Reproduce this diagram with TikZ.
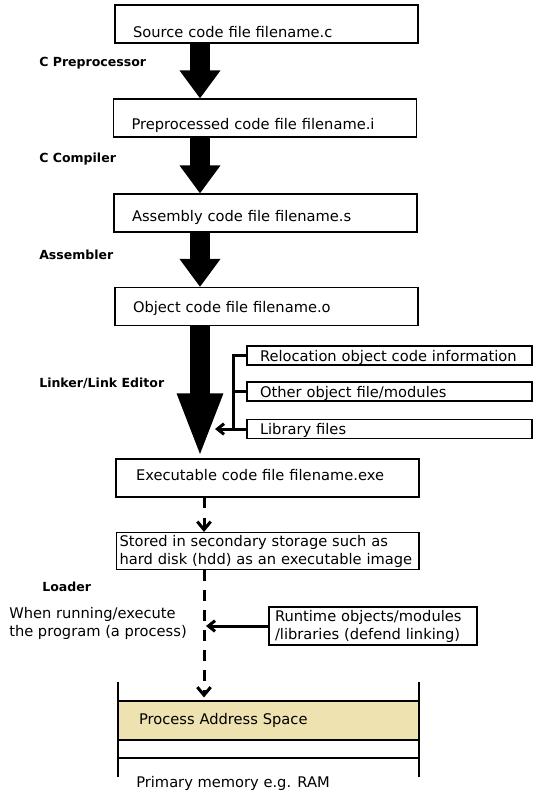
\documentclass[tikz,border=0pt]{standalone}
\usepackage{fontspec}
\setmainfont{DejaVu Sans}
\usetikzlibrary{arrows.meta,calc}

\definecolor{pasfill}{RGB}{238,226,176}

\tikzset{
	filebox/.style={draw, line width=0.8pt, minimum height=28.5pt, text width=200.25pt,
		inner xsep=13.5pt, inner ysep=1pt, align=left, text height=8.8pt, text depth=0pt,
		font=\fontsize{11}{13.5}\selectfont},
	notebox/.style={draw, line width=0.8pt, inner ysep=1pt, align=left,
		font=\fontsize{11}{13.5}\selectfont},
	objbox/.style={draw, line width=0.8pt, minimum height=14.25pt, text width=194.25pt,
		inner xsep=9.75pt, inner ysep=0pt, align=left, text height=8.8pt, text depth=0pt,
		font=\fontsize{11}{13.5}\selectfont},
	steplabel/.style={anchor=west, inner sep=0pt, font=\fontsize{9.4}{11}\bfseries},
	bigarrow/.style={line width=15pt, -{Triangle[width=29.25pt,length=21pt]}},
	linkline/.style={line width=2.25pt},
	loaddash/.style={line width=2.25pt, dash pattern=on 8pt off 7pt,
		-{Straight Barb[length=6pt,width=10pt]}},
}

\begin{document}
\begin{tikzpicture}[x=0.75pt, y=-0.75pt]
	\useasboundingbox (0,0) rectangle (546,800);
	
	% x position of the arrows
	\coordinate (ax) at (200,0);
	\coordinate (dx) at (204,0);
	
	% the file boxes
	\node[filebox, text height=20pt] (src) at (266.5,24) {Source code file filename.c};
	\node[filebox, text height=17pt] (pre) at (265,118) {Preprocessed code file filename.i};
	\node[filebox, text height=12.5pt] (asm) at (265.5,213) {Assembly code file filename.s};
	\node[filebox] (obj) at (266.5,306.5) {Object code file filename.o};
	\node[filebox, text height=4.3pt, inner xsep=15pt, text width=197.25pt] (exe) at (267.5,478) {Executable code file filename.exe};
	
	% step labels
	\node[steplabel] (lblpre) at (39,63) {C Preprocessor};
	\node[steplabel] (lblcc) at (39,159) {C Compiler};
	\node[steplabel] (lblasm) at (39,255) {Assembler};
	\node[steplabel] (lbllink) at (39,383) {Linker/Link Editor};
	\node[steplabel] (lblload) at (42,587) {Loader};
	
	% big arrows
	\draw[bigarrow] (src.south -| ax) -- (pre.north -| ax);
	\draw[bigarrow] (pre.south -| ax) -- (asm.north -| ax);
	\draw[bigarrow] (asm.south -| ax) -- (obj.north -| ax);
	\draw[line width=15pt, -{Triangle[width=30.75pt,length=48.75pt]}] (obj.south -| ax) -- (exe.north -| ax);
	
	% linker inputs
	\node[objbox] (rel) at (389.5,355.5) {Relocation object code information};
	\node[objbox] (oth) at (389.5,391.5) {Other object file/modules};
	\node[objbox] (lib) at (389.5,429) {Library files};
	\coordinate (brk) at (233,0);
	\coordinate (lnkin) at (215,429);
	\draw[linkline] (rel.west) -- (rel.west -| brk) -- (lib.west -| brk) -- (lib.west);
	\draw[linkline] (oth.west) -- (oth.west -| brk);
	\draw[linkline, -{Straight Barb[length=5pt,width=8pt]}] (lib.west -| brk) -- (lnkin);
	
	% stored image
	\node[notebox, minimum height=27.75pt, text width=222pt, inner xsep=2.6pt] (hdd) at (267.5,551)
	{Stored in secondary storage such as\\hard disk (hdd) as an executable image};
	\draw[loaddash] (exe.south -| dx) -- (hdd.north -| dx);
	
	% loading
	\node[anchor=west, inner sep=0pt, align=left, font=\fontsize{11}{13.5}\selectfont] (run) at (9,623)
	{When running/execute\\the program (a process)};
	\node[notebox, minimum height=28.5pt, text width=147pt, inner xsep=4.5pt] (rt) at (373,626)
	{Runtime objects/modules\\/libraries (defend linking)};
	\coordinate (rtin) at (206,626);
	\draw[linkline, -{Straight Barb[length=5pt,width=8pt]}] (rt.west) -- (rtin);
	
	% primary memory
	\node[draw, line width=0.8pt, fill=pasfill, minimum width=225.75pt, minimum height=29.25pt,
	text width=194.25pt, inner xsep=15.75pt, align=left, font=\fontsize{11}{13.5}\selectfont] (pas) at (268.5,720.5)
	{Process Address Space};
	\draw[loaddash] (hdd.south -| dx) -- ($(pas.north -| dx)+(0,-3)$);
	\coordinate (mtl) at (118,682);
	\coordinate (mtr) at (419,682);
	\draw[line width=0.8pt] (mtl) -- (mtl |- 0,777);
	\draw[line width=0.8pt] (mtr) -- (mtr |- 0,777);
	\draw[line width=0.8pt] (mtl |- 0,758) -- (mtr |- 0,758);
	\node[anchor=west, inner sep=0pt, font=\fontsize{11}{13.5}\selectfont] (ram) at (136,783) {Primary memory e.g. RAM};
\end{tikzpicture}
\end{document}
